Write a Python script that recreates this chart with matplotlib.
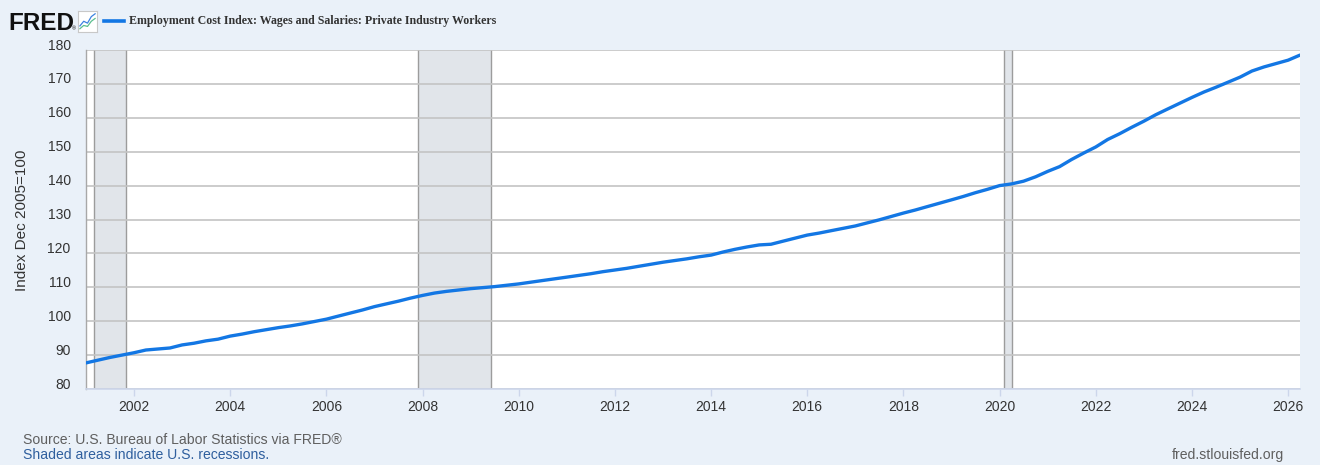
import matplotlib
import pandas as pd

matplotlib.use("Agg")

from matplotlib import pyplot as plt  # noqa: E402
from matplotlib import dates as mdates  # noqa: E402
from matplotlib.lines import Line2D  # noqa: E402
from matplotlib.transforms import ScaledTranslation  # noqa: E402

# quarterly index values, Dec 2005 = 100
quarters = pd.date_range("2001-01-01", "2026-04-01", freq="QS")
eci_wages = [
    87.7, 88.5, 89.3, 90.0,
    90.7, 91.5, 91.8, 92.1,
    93.0, 93.5, 94.2, 94.7,
    95.6, 96.2, 96.9, 97.5,
    98.1, 98.6, 99.2, 99.9,
    100.6, 101.5, 102.4, 103.3,
    104.3, 105.1, 105.9, 106.8,
    107.6, 108.3, 108.8, 109.2,
    109.6, 109.9, 110.2, 110.6,
    111.0, 111.5, 112.0, 112.5,
    113.0, 113.5, 114.0, 114.6,
    115.1, 115.6, 116.2, 116.8,
    117.4, 117.9, 118.4, 119.0,
    119.5, 120.4, 121.2, 121.9,
    122.5, 122.7, 123.6, 124.5,
    125.4, 126.0, 126.7, 127.4,
    128.1, 129.0, 129.9, 130.9,
    131.9, 132.8, 133.8, 134.8,
    135.8, 136.8, 137.9, 138.9,
    140.0, 140.5, 141.3, 142.6,
    144.2, 145.6, 147.7, 149.6,
    151.4, 153.6, 155.3, 157.2,
    159.0, 160.9, 162.6, 164.3,
    166.0, 167.6, 169.0, 170.5,
    172.0, 173.8, 175.0, 176.0,
    177.0, 178.5,
]
recession_starts = ["2001-03-01", "2007-12-01", "2020-02-01"]
recession_ends = ["2001-11-01", "2009-06-01", "2020-04-01"]
y_ticks = list(range(80, 181, 10))

series_title = "Employment Cost Index: Wages and Salaries: Private Industry Workers"
y_title = "Index Dec 2005=100"
source_note = "Source: U.S. Bureau of Labor Statistics via FRED\u00ae"
shade_note = "Shaded areas indicate U.S. recessions."
site_note = "fred.stlouisfed.org"

BG = "#eaf1f9"
LINE = "#1377e4"
GRID = "#c4c4c4"

plt.rcParams["font.family"] = ["Liberation Sans", "DejaVu Sans"]

fig = plt.figure(figsize=(13.2, 4.65), dpi=100, facecolor=BG)
ax = fig.add_axes([86 / 1320, 1 - 389 / 465, 1214 / 1320, 339 / 465])
ax.set_facecolor("white")

for start, end in zip(recession_starts, recession_ends):
    ax.axvspan(pd.Timestamp(start), pd.Timestamp(end), color="#e1e5ea", zorder=0.2, lw=0)
    for edge in (start, end):
        ax.axvline(pd.Timestamp(edge), color="#9c9c9c", lw=1.0, zorder=0.3)

ax.plot(quarters, eci_wages, color=LINE, lw=2.4, zorder=3, solid_capstyle="round")

ax.set_xlim(pd.Timestamp("2001-01-01"), pd.Timestamp("2026-04-01"))
ax.set_ylim(80, 180)
ax.set_yticks(y_ticks)
ax.xaxis.set_major_locator(mdates.YearLocator(2))
ax.xaxis.set_major_formatter(mdates.DateFormatter("%Y"))

ax.set_axisbelow(True)
ax.grid(axis="y", color=GRID, lw=1.2)
ax.grid(axis="x", visible=False)

for side in ("top", "right"):
    ax.spines[side].set_visible(False)
ax.spines["left"].set_color("#a8a8a8")
ax.spines["left"].set_linewidth(1.0)
ax.spines["bottom"].set_color("#ccd6eb")
ax.spines["bottom"].set_linewidth(1.2)

ax.tick_params(axis="y", length=0, pad=11, labelsize=10, labelcolor="#333333")
ax.tick_params(axis="x", length=5, width=1, color="#ccd6eb", pad=3,
               labelsize=10, labelcolor="#333333")
shift = ScaledTranslation(0, 6 / 100, fig.dpi_scale_trans)
for label in ax.get_yticklabels():
    label.set_transform(label.get_transform() + shift)

fig.text(22 / 1320, 1 - 220 / 465, y_title, rotation=90, ha="center", va="center",
         fontsize=11, color="#333333")

# header: logo, icon, legend entry
fig.text(8 / 1320, 1 - 30 / 465, "FRED", fontsize=17.5, fontweight="heavy",
         color="#111111", ha="left", va="baseline")
fig.text(72 / 1320, 1 - 30 / 465, "\u00ae", fontsize=4, color="#111111",
         ha="left", va="baseline")
icon = fig.add_axes([78 / 1320, 1 - 32 / 465, 19 / 1320, 21 / 465])
icon.set_facecolor("white")
icon.plot([0, 1, 2, 3, 4], [1, 2, 1.6, 3, 3.6], color="#3b82e0", lw=0.9)
icon.plot([0, 1, 2, 3, 4], [0.4, 1.1, 0.9, 2.0, 2.6], color="#5bbf8f", lw=0.9)
icon.set_xlim(-0.5, 4.5)
icon.set_ylim(-0.3, 4.2)
icon.set_xticks([])
icon.set_yticks([])
for spine in icon.spines.values():
    spine.set_color("#c8c8c8")
    spine.set_linewidth(0.8)

fig.add_artist(Line2D([104 / 1320, 124 / 1320], [1 - 21 / 465, 1 - 21 / 465],
                      transform=fig.transFigure, color=LINE, lw=2.6))
fig.text(129 / 1320, 1 - 21 / 465, series_title, fontsize=8.6,
         family=["Liberation Serif", "DejaVu Serif"], fontweight="bold",
         color="#333333", ha="left", va="center")

# footer
fig.text(23 / 1320, 1 - 440 / 465, source_note, fontsize=10.1, color="#5f5f5f",
         ha="left", va="center")
fig.text(23 / 1320, 1 - 455 / 465, shade_note, fontsize=10.1, color="#2f5f9e",
         ha="left", va="center")
fig.text(1284 / 1320, 1 - 455 / 465, site_note, fontsize=10.1, color="#5f5f5f",
         ha="right", va="center")

fig.savefig("out.png", dpi=100, facecolor=BG)
